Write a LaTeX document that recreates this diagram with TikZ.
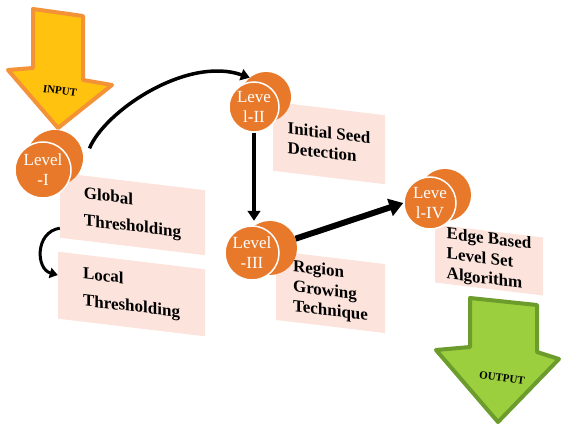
\documentclass[tikz,border=0pt]{standalone}
\usepackage{fontspec}
\setmainfont{Liberation Serif}
\usetikzlibrary{arrows.meta,calc}
\definecolor{lvlorange}{HTML}{E8792B}
\definecolor{stagepink}{HTML}{FCE4DD}
\definecolor{inyellow}{HTML}{FFC20E}
\definecolor{inborder}{HTML}{F39237}
\definecolor{outgreen}{HTML}{9BCF3E}
\definecolor{outborder}{HTML}{6C9C2C}
\def\slope{-0.12}

\begin{document}
\begin{tikzpicture}[x=1pt, y=-1pt,
    lvl/.style={circle, fill=lvlorange, draw=white, line width=1.5pt, minimum size=#1,
      inner sep=0pt, text=white, align=center, font=\fontsize{17}{20}\selectfont},
    lvlback/.style={circle, fill=lvlorange, minimum size=#1, inner sep=0pt},
    stage/.style={fill=stagepink, yslant=\slope, minimum width=#1, inner sep=0pt,
      align=left, font=\bfseries\fontsize{17}{20}\selectfont},
    flow/.style={line width=#1, -{Triangle[length=2pt 2, width=3pt 2.4]}}]
  \path[use as bounding box] (0,0) rectangle (562,427);

  % input and output arrows
  \draw[fill=inyellow, draw=inborder, line width=4pt, line join=round]
    (33,9) -- (83,16) -- (83,80) -- (112,85) -- (58,128) -- (8,70) -- (33,68) -- cycle;
  \node[rotate=-8, font=\bfseries\fontsize{11}{11}\selectfont] (inlbl) at (60,91) {INPUT};
  \draw[fill=outgreen, draw=outborder, line width=4pt, line join=round]
    (470,298) -- (537,305) -- (537,352) -- (559,359) -- (498,422) -- (436,350) -- (470,347) -- cycle;
  \node[rotate=-8, font=\bfseries\fontsize{11}{11}\selectfont] (outlbl) at (502,378) {OUTPUT};

  % stage boxes
  \node[stage=145, minimum height=65, font=\bfseries\fontsize{17}{27}\selectfont]
    (glob) at (132.5,214) {Global\\Thresholding};
  \node[stage=147, minimum height=67, font=\bfseries\fontsize{17}{27}\selectfont]
    (loc) at (131.5,294) {Local\\Thresholding};
  \node[stage=112, minimum height=69] (seed) at (329,143) {Initial Seed\\Detection};
  \node[stage=109, minimum height=69] (grow) at (330.5,292) {Region\\Growing\\Technique};
  \node[stage=108, minimum height=58] (edge) at (489,260) {Edge Based\\Level Set\\Algorithm};

  % level discs
  \foreach \n/\x/\y/\bx/\by/\r/\lbl in {1/43/170/12/-12/56/{Level\\-I},
      2/254/107/12/-10/50/{Leve\\l-II}, 3/252/253/18/-5/54/{Level\\-III},
      4/430/203/15/-8/52/{Leve\\l-IV}} {
    \node[lvlback=\r] (lev\n b) at (\x+\bx,\y+\by) {};
    \node[lvl=\r] (lev\n) at (\x,\y) {\lbl};
  }

  % connectors
  \draw[flow=3.5pt] ($(lev1b.20)+(8,0)$) .. controls +(15,-37) and +(-63,-22) .. (lev2b.130);
  \draw[flow=4pt] (lev2.south) -- (lev2.south |- lev3b.north);
  \draw[flow=6pt] (lev3b.20) -- (lev4.west);
  \draw[flow=3pt] ($(glob.west)!0.7!(glob.south west)$) .. controls +(-25,4) and +(-22,-6)
    .. ($(loc.north west)!0.7!(loc.west)$);
\end{tikzpicture}
\end{document}
